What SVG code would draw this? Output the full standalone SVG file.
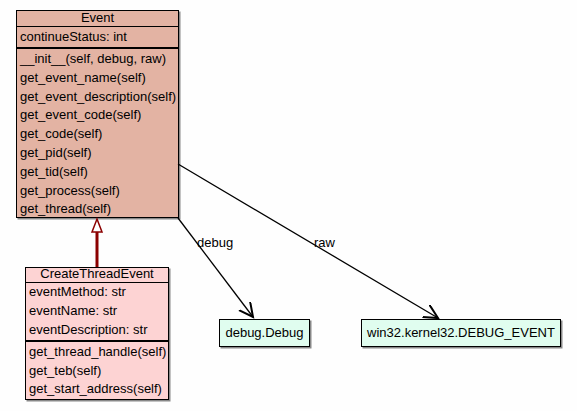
<svg xmlns="http://www.w3.org/2000/svg" width="577" height="411" viewBox="0 0 577 411">
<defs>
<marker id="vee" markerUnits="userSpaceOnUse" markerWidth="20" markerHeight="20" refX="14" refY="7" orient="auto">
<path d="M0,0 L14,7 L0,14" fill="none" stroke="#000" stroke-width="2"/>
</marker>
<style>
text{font-family:"Liberation Sans",Arial,sans-serif;font-size:13px;fill:#000}
.c{text-anchor:middle}
.box{stroke:#000;stroke-width:1}
.sh{fill:#888}
.sep{stroke:#000;stroke-width:1}
.sep2{stroke:#000;stroke-width:2}
.edge{fill:none;stroke:#000;stroke-width:1.3}
</style>
</defs>
<rect width="577" height="411" fill="#fefefe"/>
<g id="Event">
<rect class="sh" x="17.5" y="11.5" width="163" height="208"/>
<rect class="box" x="16.5" y="10.5" width="162" height="207" fill="#e3b3a3"/>
<line class="sep" x1="16.5" y1="26.5" x2="178.5" y2="26.5"/>
<line class="sep2" x1="16.5" y1="48" x2="178.5" y2="48"/>
<text class="c" x="97.5" y="22">Event</text>
<text x="20" y="41">continueStatus: int</text>
<text x="20" y="63">__init__(self, debug, raw)</text>
<text x="20" y="81.8">get_event_name(self)</text>
<text x="20" y="100.6">get_event_description(self)</text>
<text x="20" y="119.4">get_event_code(self)</text>
<text x="20" y="138.2">get_code(self)</text>
<text x="20" y="157">get_pid(self)</text>
<text x="20" y="175.8">get_tid(self)</text>
<text x="20" y="194.6">get_process(self)</text>
<text x="20" y="213.4">get_thread(self)</text>
</g>
<g id="CreateThreadEvent">
<rect class="sh" x="26.5" y="268.5" width="144" height="133"/>
<rect class="box" x="25.5" y="267.5" width="143" height="132" fill="#fdd3d3"/>
<line class="sep" x1="25.5" y1="282.5" x2="168.5" y2="282.5"/>
<line class="sep2" x1="25.5" y1="341" x2="168.5" y2="341"/>
<text class="c" x="97" y="278">CreateThreadEvent</text>
<text x="29" y="296">eventMethod: str</text>
<text x="29" y="314.5">eventName: str</text>
<text x="29" y="334">eventDescription: str</text>
<text x="29" y="356">get_thread_handle(self)</text>
<text x="29" y="374.5">get_teb(self)</text>
<text x="29" y="393">get_start_address(self)</text>
</g>
<g id="debug.Debug">
<rect class="sh" x="220.5" y="320.5" width="91" height="28"/>
<rect class="box" x="219.5" y="319.5" width="90" height="27" fill="#e0fdef"/>
<text class="c" x="264.5" y="337">debug.Debug</text>
</g>
<g id="win32.kernel32.DEBUG_EVENT">
<rect class="sh" x="362.5" y="320.5" width="200" height="28"/>
<rect class="box" x="361.5" y="319.5" width="199" height="27" fill="#e0fdef"/>
<text class="c" x="461" y="337">win32.kernel32.DEBUG_EVENT</text>
</g>
<g id="connectors">
<line x1="97" y1="232" x2="97" y2="267" stroke="#8b0000" stroke-width="3"/>
<path d="M97,219 L102,232 L92,232 Z" fill="#fff" stroke="#8b0000" stroke-width="1.5"/>
<line class="edge" x1="178" y1="218" x2="253" y2="317" marker-end="url(#vee)"/>
<text x="197" y="247">debug</text>
<line class="edge" x1="178" y1="164" x2="438" y2="318" marker-end="url(#vee)"/>
<text x="314" y="247">raw</text>
</g>
</svg>
